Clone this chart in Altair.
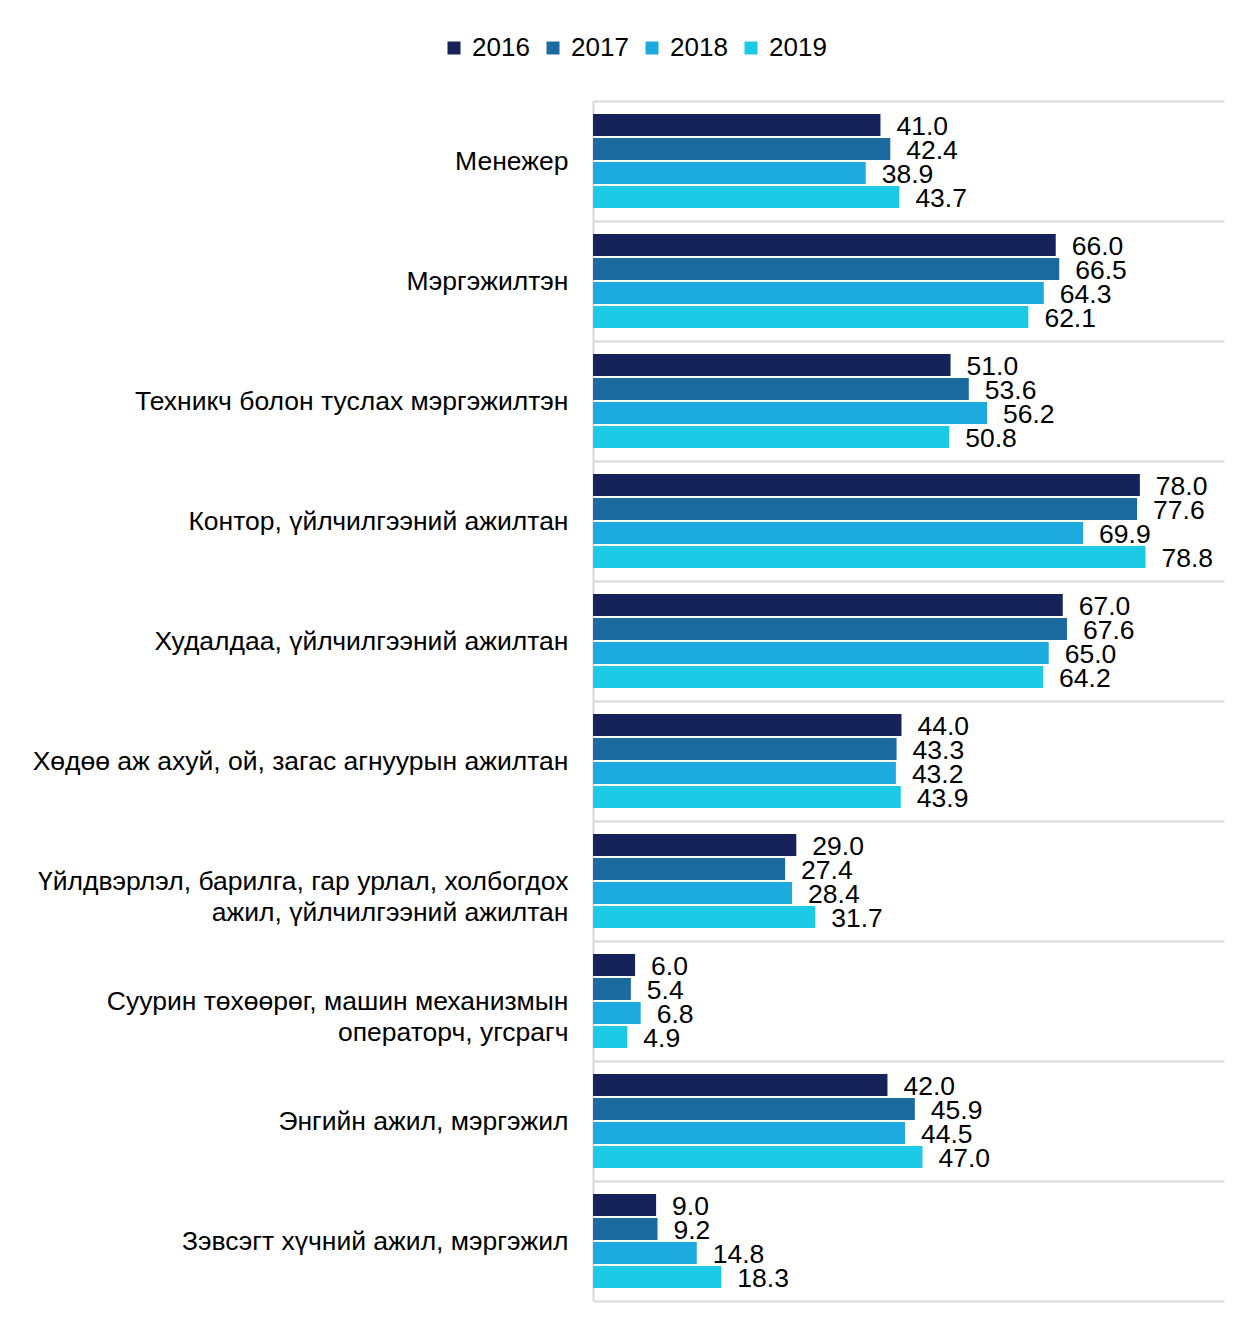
import altair as alt
import pandas as pd

categories = [
    "Менежер",
    "Мэргэжилтэн",
    "Техникч болон туслах мэргэжилтэн",
    "Контор, үйлчилгээний ажилтан",
    "Худалдаа, үйлчилгээний ажилтан",
    "Хөдөө аж ахуй, ой, загас агнуурын ажилтан",
    "Үйлдвэрлэл, барилга, гар урлал, холбогдох|ажил, үйлчилгээний ажилтан",
    "Суурин төхөөрөг, машин механизмын|операторч, угсрагч",
    "Энгийн ажил, мэргэжил",
    "Зэвсэгт хүчний ажил, мэргэжил",
]
years = ["2016", "2017", "2018", "2019"]
v2016 = [41.0, 66.0, 51.0, 78.0, 67.0, 44.0, 29.0, 6.0, 42.0, 9.0]
v2017 = [42.4, 66.5, 53.6, 77.6, 67.6, 43.3, 27.4, 5.4, 45.9, 9.2]
v2018 = [38.9, 64.3, 56.2, 69.9, 65.0, 43.2, 28.4, 6.8, 44.5, 14.8]
v2019 = [43.7, 62.1, 50.8, 78.8, 64.2, 43.9, 31.7, 4.9, 47.0, 18.3]
colors = ["#16235A", "#1A6AA0", "#1DAADF", "#1CCAE6"]

series = [v2016, v2017, v2018, v2019]
rows = []
for y, vals in zip(years, series):
    for c, v in zip(categories, vals):
        rows.append({"category": c, "year": y, "value": v})
df = pd.DataFrame(rows)

FONT = "Liberation Sans"

base = alt.Chart(df).encode(
    y=alt.Y(
        "category:N",
        sort=categories,
        scale=alt.Scale(paddingInner=0, paddingOuter=0),
        axis=alt.Axis(
            title=None,
            labelExpr="split(datum.label, '|')",
            labelFont=FONT,
            labelFontSize=26.5,
            labelColor="#000000",
            labelPadding=25,
            labelLineHeight=31,
            labelLimit=800,
            ticks=False,
            tickBand="extent",
            grid=True,
            gridColor="#D9D9D9",
            gridWidth=2,
            domainColor="#D9D9D9",
            domainWidth=2,
        ),
    ),
    yOffset=alt.YOffset(
        "year:N", sort=years, scale=alt.Scale(paddingInner=0.08, paddingOuter=0.54)
    ),
    x=alt.X("value:Q", scale=alt.Scale(domain=[0, 90]), axis=None),
)

bars = base.mark_bar().encode(
    color=alt.Color(
        "year:N",
        sort=years,
        scale=alt.Scale(domain=years, range=colors),
        legend=alt.Legend(
            title=None,
            orient="none",
            legendX=-152,
            legendY=-66,
            direction="horizontal",
            symbolType="square",
            symbolSize=169,
            symbolStrokeWidth=0,
            labelFont=FONT,
            labelFontSize=26,
            labelColor="#000000",
            labelOffset=5,
            columnPadding=10,
        ),
    )
)

labels = base.mark_text(
    align="left", baseline="middle", dx=16, dy=2, font=FONT, fontSize=26.5, color="#000000"
).encode(text=alt.Text("value:Q", format=".1f"))

chart = (
    alt.layer(bars, labels)
    .properties(
        width=631,
        height=1200,
        padding={"left": 24, "top": 27, "right": 5, "bottom": 5},
    )
    .configure_view(strokeWidth=0)
)

chart.save("out.html", embed_options={"renderer": "svg", "actions": False})
